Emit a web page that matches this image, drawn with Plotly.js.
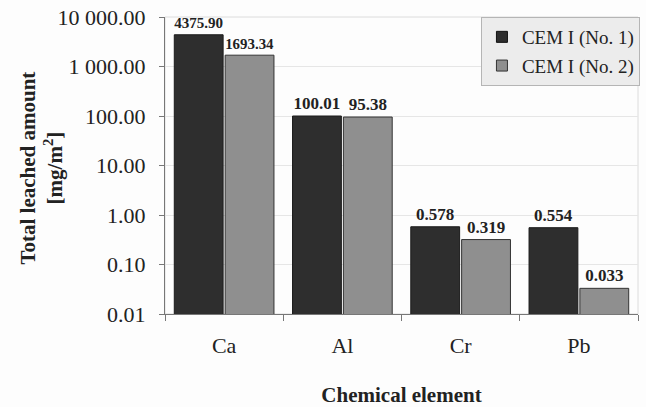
<!DOCTYPE html>
<html>
<head>
<meta charset="utf-8">
<script src="https://cdn.plot.ly/plotly-3.0.1.min.js"></script>
<style>html,body{margin:0;padding:0;background:#fff;}#chart{width:646px;height:407px;}</style>
</head>
<body>
<div id="chart"></div>
<script>
const categories = ["Ca", "Al", "Cr", "Pb"];
const series1Name = "CEM I (No. 1)";
const series2Name = "CEM I (No. 2)";
const series1 = [4375.90, 100.01, 0.578, 0.554];
const series2 = [1693.34, 95.38, 0.319, 0.033];
const series1Labels = ["4375.90", "100.01", "0.578", "0.554"];
const series2Labels = ["1693.34", "95.38", "0.319", "0.033"];
const yTickVals = [0.01, 0.1, 1, 10, 100, 1000, 10000];
const yTickText = ["0.01", "0.10", "1.00", "10.00", "100.00", "1 000.00", "10 000.00"];
const yTitle = "<b>Total leached amount<br>[mg/m<sup>2</sup>]</b>";
const xTitle = "<b>Chemical element</b>";

const serif = "'Liberation Serif'";
const color1 = "#2e2e2e", color2 = "#8f8f8f";

const traces = [
  {
    type: "bar", name: series1Name, x: categories, y: series1, showlegend: false,
    text: series1Labels, textposition: "outside", cliponaxis: false,
    textfont: {family: serif, size: 17, color: "#222", weight: "bold"},
    marker: {color: color1, line: {color: "#1a1a1a", width: 1}}
  },
  {
    type: "bar", name: series2Name, x: categories, y: series2, showlegend: false,
    text: series2Labels, textposition: "outside", cliponaxis: false,
    textfont: {family: serif, size: 17, color: "#222", weight: "bold"},
    marker: {color: color2, line: {color: "#333", width: 1}}
  },
  {
    type: "scatter", mode: "markers", name: series1Name, x: [null], y: [null],
    legendgroup: "a",
    marker: {symbol: "square", size: 11, color: color1, line: {color: "#111", width: 1}}
  },
  {
    type: "scatter", mode: "markers", name: series2Name, x: [null], y: [null],
    legendgroup: "b",
    marker: {symbol: "square", size: 11, color: color2, line: {color: "#333", width: 1}}
  }
];

const layout = {
  width: 646, height: 407,
  margin: {l: 165, r: 7, t: 17, b: 93},
  paper_bgcolor: "#fdfdfd", plot_bgcolor: "#fdfdfd",
  font: {family: serif, size: 16, color: "#222"},
  barmode: "group", bargap: 0.14, bargroupgap: 0.04,
  showlegend: true,
  legend: {
    x: 1.002, xanchor: "right", y: 1, yanchor: "top",
    bgcolor: "#ececec", bordercolor: "#b5b5b5", borderwidth: 1,
    font: {family: serif, size: 19, color: "#222"},
    itemwidth: 30, traceorder: "grouped", tracegroupgap: 1
  },
  xaxis: {
    type: "category", tickson: "boundaries", ticks: "outside", ticklen: 6,
    tickcolor: "#777", showline: true, linecolor: "#777", linewidth: 1,
    ticklabelstandoff: 12,
    showgrid: false, tickfont: {family: serif, size: 22, color: "#222"},
    title: {text: xTitle, font: {family: serif, size: 21, color: "#222"}, standoff: 30}
  },
  yaxis: {
    type: "log", range: [-2, 4], tickvals: yTickVals, ticktext: yTickText,
    ticks: "outside", ticklen: 5, tickcolor: "#777", ticklabelstandoff: 9,
    showline: true, linecolor: "#777", linewidth: 1,
    showgrid: true, gridcolor: "#e6e6e6", zeroline: false,
    tickfont: {family: serif, size: 22, color: "#222"}
  },
  annotations: [
    {text: yTitle, xref: "paper", yref: "paper", x: -0.262, y: 0.49,
     xanchor: "center", yanchor: "middle", textangle: -90, showarrow: false,
     font: {family: serif, size: 21, color: "#222"}}
  ],
  shapes: [
    {type: "rect", xref: "paper", yref: "paper", x0: 0, x1: 1, y0: 0, y1: 1,
     line: {color: "#dcdcdc", width: 1}, layer: "below"}
  ]
};

Plotly.newPlot("chart", traces, layout, {displayModeBar: false, staticPlot: true});
</script>
</body>
</html>
